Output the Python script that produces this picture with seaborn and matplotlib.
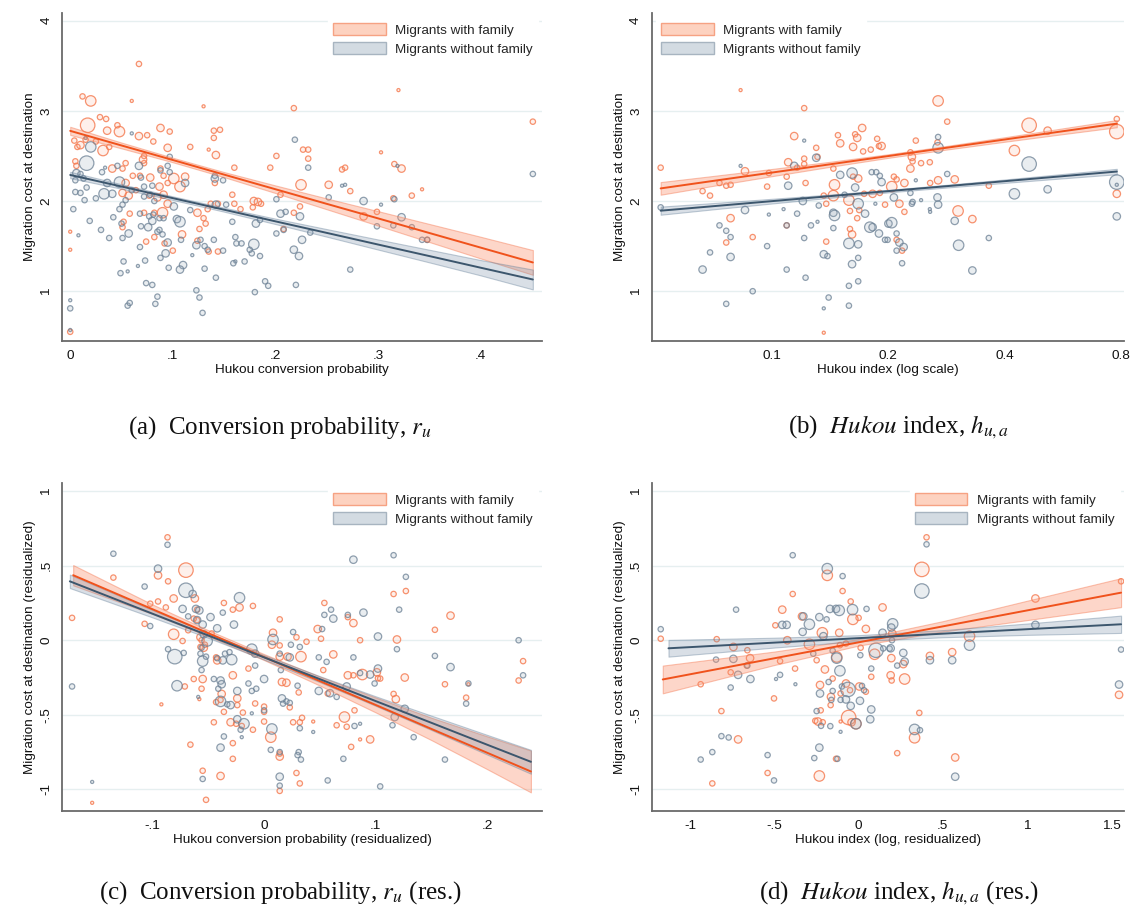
import matplotlib

matplotlib.use("Agg")
import matplotlib.pyplot as plt
import pandas as pd
import seaborn as sns
from matplotlib.patches import Patch
from matplotlib.ticker import NullLocator

FAM_LABEL = "Migrants with family"
NOFAM_LABEL = "Migrants without family"

# scatter points: (x, y, weight class 0..4)
A_FAM = [
    (0.067, 3.52, 1), (0.012, 3.16, 1), (0.020, 3.11, 3), (0.060, 3.11, 0), (0.130, 3.05, 0), (0.218, 3.03, 1),
    (0.029, 2.93, 1), (0.035, 2.91, 1), (0.017, 2.84, 4), (0.046, 2.84, 1), (0.048, 2.77, 3), (0.036, 2.78, 2),
    (0.088, 2.81, 2), (0.097, 2.77, 1), (0.067, 2.72, 2), (0.075, 2.73, 1), (0.140, 2.78, 1), (0.146, 2.79, 1),
    (0.140, 2.70, 1), (0.004, 2.67, 1), (0.007, 2.60, 1), (0.010, 2.62, 2), (0.015, 2.68, 1), (0.025, 2.66, 1),
    (0.038, 2.60, 1), (0.032, 2.56, 3), (0.072, 2.50, 1), (0.072, 2.42, 1), (0.071, 2.46, 2), (0.081, 2.66, 1),
    (0.095, 2.59, 2), (0.117, 2.60, 1), (0.135, 2.57, 0), (0.142, 2.51, 2), (0.005, 2.44, 1), (0.006, 2.39, 1),
    (0.041, 2.36, 2), (0.054, 2.42, 1), (0.051, 2.36, 1), (0.160, 2.37, 1), (0.195, 2.37, 1), (0.201, 2.50, 1),
    (0.227, 2.57, 1), (0.232, 2.57, 1), (0.232, 2.47, 1), (0.061, 2.28, 1), (0.068, 2.28, 1), (0.078, 2.26, 2),
    (0.088, 2.36, 1), (0.091, 2.28, 1), (0.101, 2.25, 3), (0.107, 2.16, 3), (0.112, 2.27, 2), (0.087, 2.16, 2),
    (0.095, 2.20, 1), (0.054, 2.20, 2), (0.051, 2.09, 2), (0.057, 2.06, 2), (0.064, 2.12, 1), (0.077, 2.06, 1),
    (0.085, 2.04, 2), (0.091, 2.07, 2), (0.095, 1.97, 2), (0.090, 1.87, 3), (0.082, 1.87, 1), (0.072, 1.87, 1),
    (0.058, 1.86, 1), (0.052, 1.77, 1), (0.051, 1.71, 1), (0.225, 2.18, 3), (0.205, 2.07, 1), (0.179, 2.00, 2),
    (0.183, 1.99, 2), (0.186, 1.97, 1), (0.160, 1.97, 1), (0.158, 2.07, 1), (0.144, 1.97, 1), (0.137, 1.97, 1),
    (0.134, 1.91, 1), (0.124, 1.87, 2), (0.130, 1.81, 1), (0.132, 1.75, 1), (0.166, 1.91, 1), (0.178, 1.93, 1),
    (0.218, 1.87, 1), (0.224, 1.94, 1), (0.109, 1.63, 2), (0.074, 1.55, 1), (0.082, 1.60, 1), (0.092, 1.53, 1),
    (0.124, 1.56, 1), (0.144, 1.44, 1), (0.135, 1.44, 1), (0.000, 1.66, 0), (0.000, 1.46, 0), (0.000, 0.55, 1),
    (0.208, 1.69, 1), (0.126, 1.69, 1), (0.100, 1.45, 1), (0.141, 2.20, 1),
    (0.320, 3.23, 0), (0.451, 2.88, 1), (0.303, 2.54, 0), (0.316, 2.41, 1), (0.323, 2.36, 2), (0.265, 2.35, 1),
    (0.268, 2.37, 1), (0.252, 2.18, 2), (0.273, 2.11, 1), (0.343, 2.13, 0), (0.333, 2.06, 1), (0.315, 2.03, 1),
    (0.299, 1.88, 1), (0.286, 1.83, 2), (0.348, 1.57, 1),
]
A_NOFAM = [
    (0.000, 0.90, 0), (0.000, 0.81, 1), (0.000, 0.57, 0), (0.060, 2.75, 0), (0.020, 2.60, 3), (0.016, 2.42, 4),
    (0.015, 2.70, 0), (0.006, 2.31, 2), (0.010, 2.30, 1), (0.013, 2.25, 1), (0.005, 2.23, 1), (0.003, 1.91, 1),
    (0.005, 2.10, 1), (0.010, 2.09, 1), (0.014, 2.01, 1), (0.016, 2.15, 1), (0.025, 2.03, 1), (0.033, 2.08, 3),
    (0.041, 2.08, 2), (0.036, 2.20, 2), (0.048, 2.21, 3), (0.031, 2.32, 1), (0.046, 2.39, 1), (0.034, 2.37, 0),
    (0.019, 1.78, 1), (0.008, 1.62, 0), (0.030, 1.68, 1), (0.038, 1.59, 1), (0.042, 1.82, 1), (0.048, 1.91, 1),
    (0.051, 1.96, 1), (0.054, 2.01, 1), (0.050, 1.75, 1), (0.051, 1.59, 1), (0.057, 1.64, 2), (0.052, 1.33, 1),
    (0.049, 1.20, 1), (0.056, 1.22, 0), (0.056, 0.84, 1), (0.058, 0.87, 1), (0.060, 2.12, 1), (0.067, 2.39, 2),
    (0.069, 2.26, 1), (0.072, 2.16, 1), (0.072, 2.05, 1), (0.068, 1.86, 1), (0.069, 1.72, 1), (0.073, 1.34, 1),
    (0.068, 1.49, 1), (0.066, 1.28, 0), (0.074, 1.09, 1), (0.080, 1.07, 1), (0.078, 2.07, 1), (0.082, 2.00, 1),
    (0.077, 1.83, 1), (0.080, 1.78, 2), (0.076, 1.71, 2), (0.085, 1.66, 1), (0.081, 1.85, 1), (0.080, 2.17, 1),
    (0.087, 1.81, 1), (0.087, 1.68, 1), (0.090, 1.63, 1), (0.091, 1.81, 1), (0.088, 2.34, 1), (0.095, 1.54, 2),
    (0.093, 1.42, 2), (0.088, 1.37, 1), (0.096, 1.26, 1), (0.085, 0.94, 1), (0.083, 0.86, 1), (0.097, 2.49, 1),
    (0.095, 2.39, 1), (0.097, 2.32, 1), (0.101, 1.94, 2), (0.104, 1.80, 2), (0.107, 1.77, 3), (0.110, 1.29, 2),
    (0.107, 1.24, 2), (0.108, 1.57, 1), (0.112, 2.20, 2), (0.117, 1.90, 1), (0.119, 1.40, 0), (0.123, 1.51, 2),
    (0.127, 1.57, 1), (0.131, 1.50, 1), (0.134, 1.46, 1), (0.131, 1.25, 1), (0.141, 2.28, 1), (0.141, 2.25, 2),
    (0.142, 1.96, 2), (0.149, 2.23, 1), (0.142, 1.15, 1), (0.123, 1.01, 1), (0.126, 0.93, 1), (0.129, 0.76, 1),
    (0.140, 1.57, 1), (0.149, 1.45, 1), (0.152, 1.96, 1), (0.158, 1.77, 1), (0.161, 1.60, 1), (0.162, 1.53, 1),
    (0.167, 1.53, 1), (0.159, 1.31, 1), (0.161, 1.33, 0), (0.170, 1.33, 1), (0.177, 1.42, 1), (0.179, 1.52, 3),
    (0.175, 1.46, 1), (0.180, 0.99, 1), (0.181, 1.75, 2), (0.185, 1.79, 1), (0.185, 1.39, 1), (0.190, 1.11, 1),
    (0.193, 1.06, 1), (0.201, 2.02, 1), (0.205, 1.86, 2), (0.210, 1.88, 1), (0.201, 1.64, 1), (0.208, 1.68, 1),
    (0.219, 2.68, 1), (0.220, 1.07, 1), (0.218, 1.46, 2), (0.223, 1.39, 2), (0.226, 1.57, 2), (0.232, 2.37, 1),
    (0.234, 1.65, 1), (0.224, 1.83, 2),
    (0.451, 2.30, 1), (0.319, 2.39, 0), (0.265, 2.17, 0), (0.268, 2.18, 0), (0.252, 2.04, 1), (0.286, 2.00, 2),
    (0.303, 1.96, 0), (0.316, 2.02, 1), (0.323, 1.82, 2), (0.299, 1.72, 1), (0.315, 1.73, 1), (0.333, 1.71, 1),
    (0.343, 1.57, 1), (0.348, 1.57, 1), (0.273, 1.24, 1),
]

B_FAM = [
    (0.0828, 3.23, 0), (0.121, 3.03, 1), (0.0514, 2.37, 1), (0.114, 2.72, 2), (0.130, 2.59, 1), (0.131, 2.49, 1),
    (0.110, 2.43, 2), (0.121, 2.47, 1), (0.121, 2.41, 1), (0.116, 2.37, 1), (0.085, 2.33, 2), (0.098, 2.31, 1),
    (0.109, 2.27, 1), (0.073, 2.20, 1), (0.076, 2.17, 1), (0.078, 2.18, 1), (0.066, 2.11, 1), (0.069, 2.06, 1),
    (0.097, 2.16, 1), (0.122, 2.20, 1), (0.148, 2.73, 1), (0.150, 2.64, 2), (0.162, 2.60, 2), (0.164, 2.74, 1),
    (0.166, 2.70, 2), (0.171, 2.81, 2), (0.172, 2.55, 1), (0.180, 2.57, 1), (0.187, 2.69, 1), (0.189, 2.61, 1),
    (0.192, 2.61, 2), (0.144, 2.36, 1), (0.145, 2.18, 3), (0.144, 2.06, 3), (0.158, 2.01, 3), (0.138, 1.97, 1),
    (0.136, 2.06, 1), (0.162, 2.27, 1), (0.167, 2.25, 2), (0.182, 2.08, 2), (0.190, 2.09, 1), (0.173, 2.08, 1),
    (0.168, 1.90, 1), (0.166, 1.81, 1), (0.159, 1.89, 1), (0.196, 1.96, 1), (0.078, 1.81, 2), (0.089, 1.60, 1),
    (0.076, 1.54, 1), (0.109, 1.73, 1), (0.138, 1.55, 1), (0.161, 1.63, 2), (0.159, 1.69, 1), (0.136, 0.54, 0),
    (0.269, 3.11, 3), (0.284, 2.88, 1), (0.2355, 2.67, 1), (0.268, 2.65, 1), (0.228, 2.54, 1), (0.230, 2.49, 2),
    (0.231, 2.44, 1), (0.243, 2.42, 1), (0.256, 2.43, 1), (0.228, 2.36, 2), (0.463, 2.84, 4), (0.517, 2.78, 2),
    (0.781, 2.77, 4), (0.781, 2.91, 1), (0.424, 2.56, 3), (0.2066, 2.27, 1), (0.210, 2.24, 1), (0.204, 2.16, 3),
    (0.220, 2.20, 2), (0.2135, 1.97, 2), (0.220, 1.88, 1), (0.2565, 2.20, 1), (0.269, 2.23, 2), (0.297, 2.24, 2),
    (0.364, 2.17, 1), (0.303, 1.89, 3), (0.330, 1.80, 2), (0.781, 2.08, 2), (0.210, 1.57, 1), (0.217, 1.45, 1),
]
B_NOFAM = [
    (0.0514, 1.93, 1), (0.0828, 2.39, 0), (0.121, 2.67, 0), (0.130, 2.48, 2), (0.114, 2.39, 2), (0.110, 2.17, 2),
    (0.120, 2.00, 2), (0.116, 1.86, 1), (0.107, 1.91, 0), (0.098, 1.85, 0), (0.085, 1.90, 2), (0.073, 1.73, 1),
    (0.076, 1.67, 1), (0.078, 1.60, 1), (0.069, 1.43, 1), (0.078, 1.38, 2), (0.066, 1.24, 2), (0.076, 0.86, 1),
    (0.089, 1.00, 1), (0.097, 1.50, 1), (0.109, 1.24, 1), (0.121, 1.59, 1), (0.126, 1.73, 1), (0.122, 1.15, 1),
    (0.131, 1.77, 0), (0.132, 1.95, 1), (0.136, 1.41, 2), (0.139, 1.39, 1), (0.140, 0.93, 1), (0.136, 0.81, 0),
    (0.144, 1.87, 2), (0.145, 1.84, 3), (0.144, 1.70, 1), (0.150, 2.29, 2), (0.154, 2.07, 1), (0.158, 1.53, 3),
    (0.158, 1.06, 1), (0.158, 0.84, 1), (0.161, 2.31, 3), (0.164, 2.15, 2), (0.167, 1.97, 3), (0.167, 1.52, 2),
    (0.167, 1.37, 1), (0.167, 1.11, 1), (0.161, 1.30, 2), (0.174, 1.86, 2), (0.181, 2.32, 1), (0.179, 1.71, 3),
    (0.182, 1.71, 2), (0.189, 1.64, 2), (0.186, 2.32, 1), (0.190, 2.28, 1), (0.192, 2.21, 2), (0.185, 1.97, 0),
    (0.196, 1.57, 1), (0.200, 1.75, 2), (0.109, 1.73, 1),
    (0.269, 2.71, 1), (0.269, 2.59, 3), (0.2355, 2.23, 0), (0.284, 2.30, 1), (0.2066, 2.04, 2), (0.228, 2.09, 1),
    (0.231, 1.99, 1), (0.230, 1.97, 1), (0.243, 2.01, 0), (0.268, 2.04, 2), (0.269, 1.96, 2), (0.256, 1.91, 0),
    (0.2565, 1.88, 0), (0.463, 2.41, 4), (0.517, 2.13, 2), (0.424, 2.08, 3), (0.781, 2.21, 4), (0.781, 2.18, 0),
    (0.781, 1.83, 2), (0.204, 1.76, 3), (0.210, 1.64, 1), (0.199, 1.57, 1), (0.2135, 1.54, 2), (0.219, 1.49, 2),
    (0.210, 1.45, 1), (0.217, 1.31, 1), (0.297, 1.78, 2), (0.304, 1.51, 3), (0.330, 1.23, 2), (0.364, 1.59, 1),
]

C_FAM = [
    (-0.0865, 0.69, 1), (-0.135, 0.42, 1), (-0.172, 0.15, 1), (-0.154, -1.09, 0), (-0.070, 0.47, 4),
    (-0.095, 0.435, 2), (-0.086, 0.395, 1), (-0.095, 0.26, 1), (-0.102, 0.245, 1), (-0.107, 0.11, 1),
    (-0.081, 0.28, 2), (-0.088, 0.22, 1), (-0.081, 0.04, 3), (-0.073, -0.005, 1), (-0.062, 0.28, 2),
    (-0.060, 0.205, 1), (-0.063, 0.145, 1), (-0.060, 0.135, 1), (-0.068, 0.067, 1), (-0.057, 0.02, 2),
    (-0.056, 0.0, 1), (-0.054, -0.05, 2), (-0.053, -0.03, 1), (-0.057, -0.045, 1), (-0.047, 0.045, 1),
    (-0.036, 0.25, 1), (-0.028, 0.205, 1), (-0.022, 0.22, 2), (-0.010, 0.23, 1), (-0.043, -0.115, 1),
    (-0.042, -0.135, 2), (-0.063, -0.26, 1), (-0.055, -0.26, 2), (-0.071, -0.31, 1), (-0.056, -0.325, 1),
    (-0.058, -0.395, 0), (-0.092, -0.43, 0), (-0.043, -0.415, 1), (-0.038, -0.36, 2), (-0.039, -0.40, 1),
    (-0.028, -0.235, 2), (-0.024, -0.39, 2), (-0.036, -0.48, 1), (-0.024, -0.435, 1), (-0.019, -0.485, 1),
    (-0.030, -0.55, 2), (-0.025, -0.56, 1), (-0.020, -0.575, 1), (-0.010, -0.60, 1), (-0.028, -0.69, 1),
    (-0.028, -0.795, 1), (-0.045, -0.55, 1), (-0.066, -0.70, 1), (-0.055, -0.875, 1), (-0.039, -0.91, 2),
    (-0.052, -1.07, 1), (-0.014, -0.19, 1), (-0.008, -0.424, 1), (0.0, -0.445, 1), (0.0, -0.48, 1),
    (0.0, -0.545, 1), (0.006, -0.65, 3), (0.014, -0.78, 2), (0.014, -0.76, 1), (0.014, -1.01, 1),
    (0.029, -0.89, 1), (0.032, -0.96, 1), (0.014, 0.14, 1), (0.008, 0.05, 2), (0.007, -0.03, 2),
    (0.014, -0.035, 1), (0.014, -0.11, 2), (0.021, -0.11, 2), (0.033, -0.11, 3), (0.029, 0.02, 1),
    (0.038, -0.01, 1), (0.016, -0.28, 2), (0.020, -0.285, 2), (0.031, -0.35, 1), (0.023, -0.45, 1),
    (0.026, -0.55, 1), (0.032, -0.55, 1), (0.034, -0.52, 1),
    (0.054, 0.25, 1), (0.116, 0.31, 1), (0.127, 0.33, 1), (0.075, 0.155, 1), (0.080, 0.115, 2),
    (0.048, 0.075, 2), (0.051, 0.01, 1), (0.062, -0.095, 2), (0.053, -0.20, 1), (0.086, 0.0, 1),
    (0.075, -0.235, 2), (0.080, -0.235, 1), (0.088, -0.23, 3), (0.101, -0.215, 2), (0.102, -0.255, 1),
    (0.104, -0.257, 1), (0.126, -0.25, 2), (0.119, 0.005, 2), (0.153, 0.07, 1), (0.167, 0.165, 2),
    (0.162, -0.295, 1), (0.181, -0.385, 1), (0.183, -0.295, 0), (0.232, -0.14, 1), (0.228, -0.27, 1),
    (0.116, -0.36, 1), (0.118, -0.395, 2), (0.072, -0.515, 3), (0.065, -0.57, 1), (0.074, -0.58, 1),
    (0.081, -0.47, 1), (0.044, -0.545, 0), (0.086, -0.665, 0), (0.095, -0.665, 2), (0.078, -0.715, 1),
    (0.057, -0.357, 1),
]
C_NOFAM = [
    (-0.135, 0.58, 1), (-0.0865, 0.64, 1), (-0.172, -0.31, 1), (-0.154, -0.95, 0), (-0.107, 0.36, 1),
    (-0.095, 0.48, 2), (-0.102, 0.095, 1), (-0.070, 0.335, 4), (-0.073, 0.21, 2), (-0.064, 0.31, 2),
    (-0.061, 0.21, 2), (-0.058, 0.20, 2), (-0.068, 0.16, 1), (-0.060, 0.135, 2), (-0.055, 0.105, 2),
    (-0.048, 0.155, 2), (-0.042, 0.08, 2), (-0.037, 0.185, 1), (-0.027, 0.105, 2), (-0.022, 0.285, 3),
    (-0.054, 0.04, 2), (-0.051, -0.005, 3), (-0.056, -0.05, 1), (-0.057, -0.09, 1), (-0.086, -0.06, 1),
    (-0.080, -0.11, 4), (-0.072, -0.085, 1), (-0.055, -0.14, 3), (-0.052, -0.11, 1), (-0.042, -0.12, 1),
    (-0.037, -0.135, 2), (-0.035, -0.09, 1), (-0.031, -0.08, 1), (-0.029, -0.13, 3), (-0.011, -0.06, 3),
    (-0.008, -0.09, 2), (-0.008, -0.17, 1), (0.0, -0.26, 2), (-0.056, -0.20, 1), (-0.045, -0.26, 1),
    (-0.039, -0.27, 2), (-0.038, -0.295, 2), (-0.041, -0.325, 1), (-0.078, -0.305, 3), (-0.059, -0.38, 0),
    (-0.039, -0.41, 3), (-0.033, -0.43, 1), (-0.030, -0.435, 2), (-0.024, -0.34, 2), (-0.014, -0.29, 1),
    (-0.011, -0.34, 1), (-0.007, -0.325, 1), (-0.011, -0.49, 0), (-0.024, -0.53, 2), (-0.018, -0.56, 3),
    (-0.021, -0.60, 1), (-0.020, -0.65, 0), (-0.036, -0.645, 1), (-0.039, -0.72, 2), (-0.055, -0.93, 1),
    (0.0, -0.47, 1), (0.007, -0.595, 3), (0.006, -0.735, 1), (0.014, -0.75, 1), (0.014, -0.915, 2),
    (0.014, -0.975, 1), (0.015, -0.20, 1), (0.014, -0.09, 1), (0.008, 0.005, 3), (0.024, -0.03, 1),
    (0.026, 0.055, 1), (0.032, -0.045, 1), (0.023, -0.115, 2), (0.016, -0.39, 2), (0.020, -0.41, 1),
    (0.023, -0.42, 1), (0.017, -0.425, 1), (0.030, -0.305, 1), (0.032, -0.59, 1), (0.031, -0.75, 1),
    (0.030, -0.77, 1), (0.033, -0.80, 1),
    (0.080, 0.54, 2), (0.116, 0.57, 1), (0.127, 0.425, 1), (0.089, 0.185, 2), (0.075, 0.17, 1),
    (0.121, 0.205, 1), (0.060, 0.205, 1), (0.054, 0.17, 1), (0.062, 0.145, 2), (0.052, 0.075, 1),
    (0.102, 0.025, 2), (0.119, -0.06, 1), (0.153, -0.105, 1), (0.167, -0.18, 2), (0.228, 0.0, 1),
    (0.232, -0.235, 1), (0.181, -0.425, 1), (0.183, -0.29, 1), (0.049, -0.115, 1), (0.056, -0.145, 1),
    (0.080, -0.115, 1), (0.086, -0.22, 1), (0.095, -0.23, 2), (0.099, -0.29, 1), (0.102, -0.19, 2),
    (0.074, -0.31, 2), (0.065, -0.38, 1), (0.059, -0.355, 2), (0.049, -0.34, 2), (0.126, -0.46, 2),
    (0.117, -0.515, 2), (0.115, -0.57, 1), (0.081, -0.575, 1), (0.086, -0.56, 0), (0.044, -0.615, 0),
    (0.134, -0.65, 1), (0.071, -0.795, 1), (0.057, -0.94, 1), (0.104, -0.98, 1), (0.162, -0.80, 1),
]

D_FAM = [
    (-1.174, 0.01, 1), (-0.391, 0.31, 1), (-0.453, 0.205, 2), (-0.494, 0.10, 1), (-0.842, 0.007, 1),
    (-0.743, -0.045, 2), (-0.660, -0.067, 1), (-0.644, -0.12, 2), (-0.664, -0.17, 1), (-0.759, -0.215, 1),
    (-0.937, -0.295, 1), (-0.814, -0.475, 1), (-0.715, -0.665, 2), (-0.868, -0.96, 1), (-0.540, -0.89, 1),
    (-0.502, -0.39, 1), (-0.466, -0.14, 1), (-0.377, -0.19, 1), (-0.423, 0.0, 2), (-0.336, 0.16, 2),
    (-0.186, 0.435, 3), (-0.095, 0.33, 1), (-0.047, 0.26, 1), (0.142, 0.22, 2), (0.0, 0.15, 1),
    (-0.034, 0.14, 3), (0.043, 0.076, 2), (-0.215, 0.05, 3), (-0.292, -0.027, 3), (-0.249, -0.134, 1),
    (-0.200, -0.196, 2), (-0.115, 0.05, 2), (-0.111, -0.033, 1), (-0.075, -0.022, 1), (-0.130, -0.112, 3),
    (-0.229, -0.30, 2), (-0.154, -0.257, 1), (-0.075, -0.29, 2), (-0.164, -0.38, 2), (-0.166, -0.435, 1),
    (-0.107, -0.357, 1), (-0.051, -0.335, 1), (0.004, -0.31, 2), (0.043, -0.345, 1), (-0.059, -0.518, 4),
    (-0.042, -0.55, 2), (-0.016, -0.56, 3), (-0.107, -0.545, 0), (-0.257, -0.54, 1), (-0.241, -0.545, 2),
    (-0.213, -0.55, 1), (-0.225, -0.47, 1), (-0.134, -0.795, 1), (-0.233, -0.91, 3), (0.012, -0.05, 1),
    (0.095, -0.094, 3), (0.075, -0.245, 1),
    (0.403, 0.69, 1), (0.375, 0.475, 4), (0.200, 0.045, 2), (0.194, -0.12, 2), (0.190, -0.235, 2),
    (0.196, -0.27, 1), (0.265, -0.16, 2), (0.273, -0.26, 3), (0.423, -0.105, 2), (0.555, -0.08, 2),
    (0.658, 0.027, 3), (1.049, 0.28, 2), (1.557, 0.395, 1), (1.545, -0.366, 2), (0.360, -0.487, 1),
    (0.332, -0.654, 3), (0.229, -0.757, 1), (0.573, -0.786, 2),
]
D_NOFAM = [
    (-1.174, 0.074, 1), (-0.391, 0.57, 1), (-0.095, 0.43, 1), (-0.186, 0.48, 3), (-0.727, 0.205, 1),
    (-0.170, 0.21, 2), (-0.134, 0.21, 2), (-0.115, 0.20, 3), (-0.036, 0.205, 3), (0.047, 0.21, 1),
    (-0.233, 0.155, 2), (-0.190, 0.14, 1), (-0.328, 0.16, 2), (-0.453, 0.103, 2), (-0.427, 0.103, 2),
    (-0.292, 0.107, 3), (-0.332, 0.056, 2), (-0.209, 0.027, 2), (-0.269, -0.09, 1), (-0.154, -0.07, 1),
    (0.010, -0.10, 1), (0.142, 0.05, 2), (0.103, -0.067, 4), (0.146, -0.055, 1), (0.184, -0.056, 1),
    (-0.846, -0.13, 1), (-0.743, -0.125, 2), (-0.660, -0.17, 1), (-0.715, -0.232, 2), (-0.642, -0.26, 2),
    (-0.759, -0.317, 1), (-0.466, -0.232, 1), (-0.490, -0.26, 0), (-0.375, -0.295, 0), (-0.111, -0.205, 3),
    (-0.099, -0.31, 1), (-0.063, -0.33, 4), (0.008, -0.406, 2), (0.020, -0.306, 1), (0.032, -0.335, 1),
    (0.075, -0.19, 1), (0.075, -0.464, 2), (0.069, -0.53, 2), (-0.229, -0.357, 2), (-0.178, -0.28, 1),
    (-0.154, -0.34, 1), (-0.162, -0.40, 1), (-0.107, -0.40, 1), (-0.075, -0.397, 2), (-0.047, -0.44, 2),
    (-0.249, -0.475, 1), (-0.223, -0.574, 1), (-0.168, -0.576, 1), (-0.107, -0.614, 0), (-0.814, -0.643, 1),
    (-0.771, -0.652, 1), (-0.868, -0.75, 1), (-0.937, -0.80, 1), (-0.540, -0.77, 1), (-0.502, -0.94, 1),
    (-0.233, -0.72, 2), (-0.263, -0.79, 1), (-0.126, -0.795, 1), (-0.016, -0.56, 3), (-0.130, -0.12, 3),
    (0.403, 0.643, 1), (0.375, 0.33, 4), (0.202, 0.11, 3), (0.194, 0.085, 2), (0.198, 0.0, 1),
    (0.190, -0.054, 2), (0.265, -0.085, 2), (0.273, -0.143, 2), (0.229, -0.17, 1), (0.423, -0.134, 2),
    (0.555, -0.134, 2), (0.658, -0.033, 3), (1.049, 0.103, 2), (1.557, -0.0625, 1), (1.545, -0.297, 2),
    (0.332, -0.598, 3), (0.364, -0.603, 1), (0.573, -0.915, 2),
]

# fitted lines with confidence band half-widths
A_FAM_FIT_X = [0.0, 0.05, 0.1, 0.15, 0.2, 0.25, 0.3, 0.35, 0.4, 0.451]
A_FAM_FIT_Y = [2.778, 2.616, 2.455, 2.293, 2.131, 1.969, 1.808, 1.646, 1.484, 1.319]
A_FAM_FIT_H = [0.045, 0.032, 0.025, 0.028, 0.042, 0.06, 0.08, 0.10, 0.12, 0.137]
A_NOFAM_FIT_X = [0.0, 0.05, 0.1, 0.15, 0.2, 0.25, 0.3, 0.35, 0.4, 0.451]
A_NOFAM_FIT_Y = [2.289, 2.161, 2.032, 1.904, 1.775, 1.647, 1.518, 1.390, 1.261, 1.130]
A_NOFAM_FIT_H = [0.035, 0.025, 0.02, 0.022, 0.03, 0.042, 0.056, 0.07, 0.085, 0.11]

B_FAM_FIT_X = [0.0514, 0.07, 0.1, 0.14, 0.2, 0.28, 0.4, 0.56, 0.781]
B_FAM_FIT_Y = [2.140, 2.222, 2.316, 2.405, 2.499, 2.588, 2.682, 2.771, 2.858]
B_FAM_FIT_H = [0.07, 0.055, 0.04, 0.028, 0.02, 0.02, 0.025, 0.032, 0.04]
B_NOFAM_FIT_X = [0.0514, 0.07, 0.1, 0.14, 0.2, 0.28, 0.4, 0.56, 0.781]
B_NOFAM_FIT_Y = [1.893, 1.942, 1.999, 2.053, 2.110, 2.163, 2.220, 2.274, 2.327]
B_NOFAM_FIT_H = [0.045, 0.035, 0.026, 0.018, 0.014, 0.015, 0.019, 0.024, 0.03]

C_FAM_FIT_X = [-0.171, -0.1, -0.05, 0.0, 0.05, 0.1, 0.15, 0.2, 0.239]
C_FAM_FIT_Y = [0.436, 0.208, 0.047, -0.113, -0.274, -0.434, -0.595, -0.755, -0.880]
C_FAM_FIT_H = [0.068, 0.032, 0.02, 0.02, 0.03, 0.05, 0.075, 0.11, 0.14]
C_NOFAM_FIT_X = [-0.174, -0.1, -0.05, 0.0, 0.05, 0.1, 0.15, 0.2, 0.239]
C_NOFAM_FIT_Y = [0.395, 0.178, 0.032, -0.115, -0.261, -0.408, -0.554, -0.701, -0.815]
C_NOFAM_FIT_H = [0.045, 0.025, 0.016, 0.015, 0.02, 0.032, 0.048, 0.066, 0.08]

D_FAM_FIT_X = [-1.162, -0.5, 0.0, 0.5, 1.0, 1.557]
D_FAM_FIT_Y = [-0.263, -0.121, -0.014, 0.093, 0.200, 0.319]
D_FAM_FIT_H = [0.093, 0.045, 0.022, 0.035, 0.065, 0.097]
D_NOFAM_FIT_X = [-1.128, -0.5, 0.0, 0.5, 1.0, 1.557]
D_NOFAM_FIT_Y = [-0.054, -0.016, 0.014, 0.044, 0.074, 0.107]
D_NOFAM_FIT_H = [0.056, 0.033, 0.02, 0.024, 0.038, 0.058]

CAPTIONS = [
    "(a)  Conversion probability, $r_u$",
    r"(b)  $\mathit{Hukou}$ index, $h_{u,a}$",
    "(c)  Conversion probability, $r_u$ (res.)",
    r"(d)  $\mathit{Hukou}$ index, $h_{u,a}$ (res.)",
]

FAM_LINE = "#f0521c"
NOFAM_LINE = "#3c566d"
FAM_EDGE = (0.96, 0.47, 0.30, 0.8)
FAM_FACE = (0.99, 0.60, 0.47, 0.14)
NOFAM_EDGE = (0.42, 0.50, 0.58, 0.75)
NOFAM_FACE = (0.58, 0.65, 0.72, 0.2)
FAM_BAND = (0.99, 0.55, 0.40, 0.35)
FAM_BAND_EDGE = (0.96, 0.48, 0.33, 0.45)
NOFAM_BAND = (0.45, 0.55, 0.65, 0.27)
NOFAM_BAND_EDGE = (0.40, 0.50, 0.60, 0.4)
AXIS_GREY = "#6a6a6a"
TEXT_SIZE = 9.7
SIZES = {0: 5, 1: 15, 2: 29, 3: 57, 4: 109}


def to_frame(points):
    return pd.DataFrame(points, columns=["x", "y", "w"])


def draw_fit(ax, xs, ys, hs, band_color, band_edge):
    fit = pd.DataFrame({"x": xs, "y": ys, "h": hs})
    ax.fill_between(
        fit["x"], fit["y"] - fit["h"], fit["y"] + fit["h"],
        facecolor=band_color, edgecolor=band_edge, linewidth=0.8, zorder=3,
    )
    return fit


def draw_panel(ax, fam, nofam, fam_fit, nofam_fit, xlabel, ylabel, xlim, ylim,
               xticks, xticklabels, yticks, yticklabels, legend_loc, logx=False):
    if logx:
        ax.set_xscale("log")

    sns.scatterplot(
        data=to_frame(fam), x="x", y="y", size="w", sizes=SIZES, legend=False,
        color=FAM_FACE, edgecolor=FAM_EDGE, linewidth=0.9, ax=ax, zorder=2,
    )
    sns.scatterplot(
        data=to_frame(nofam), x="x", y="y", size="w", sizes=SIZES, legend=False,
        color=NOFAM_FACE, edgecolor=NOFAM_EDGE, linewidth=0.9, ax=ax, zorder=2,
    )

    fam_line = draw_fit(ax, *fam_fit, FAM_BAND, FAM_BAND_EDGE)
    nofam_line = draw_fit(ax, *nofam_fit, NOFAM_BAND, NOFAM_BAND_EDGE)
    sns.lineplot(data=fam_line, x="x", y="y", color=FAM_LINE, linewidth=1.4, ax=ax, zorder=4)
    sns.lineplot(data=nofam_line, x="x", y="y", color=NOFAM_LINE, linewidth=1.4, ax=ax, zorder=4)

    ax.set_xlim(*xlim)
    ax.set_ylim(*ylim)
    if logx:
        ax.xaxis.set_minor_locator(NullLocator())
    ax.set_xticks(xticks, xticklabels)
    ax.set_yticks(yticks, yticklabels)
    for label in ax.get_yticklabels():
        label.set_rotation(90)
        label.set_va("center")

    ax.set_xlabel(xlabel, fontsize=TEXT_SIZE, labelpad=1, color="#111111")
    ax.set_ylabel(ylabel, fontsize=TEXT_SIZE, labelpad=3, color="#111111")
    ax.tick_params(axis="both", direction="out", length=4, width=1, color=AXIS_GREY,
                   labelsize=TEXT_SIZE, labelcolor="#111111", pad=3)

    for side in ("top", "right"):
        ax.spines[side].set_visible(False)
    for side in ("left", "bottom"):
        ax.spines[side].set_color(AXIS_GREY)
        ax.spines[side].set_linewidth(1.3)

    ax.yaxis.grid(True, color="#e6eff0", linewidth=1.0)
    ax.xaxis.grid(False)
    ax.set_axisbelow(True)

    handles = [
        Patch(facecolor="#fdd2c0", edgecolor="#f6a283", linewidth=1.0, label=FAM_LABEL),
        Patch(facecolor="#d3dbe2", edgecolor="#a7b4c0", linewidth=1.0, label=NOFAM_LABEL),
    ]
    leg = ax.legend(
        handles=handles, loc=legend_loc, frameon=True, facecolor="white", edgecolor="white",
        framealpha=1, fancybox=False, fontsize=TEXT_SIZE, handlelength=3.9, handleheight=1.05,
        labelspacing=0.4, borderaxespad=0.3, handletextpad=0.7, borderpad=0.4,
    )
    leg.set_zorder(6)


def main():
    sns.set_theme(style="white")
    plt.rcParams["font.family"] = ["Liberation Sans", "DejaVu Sans"]
    plt.rcParams["mathtext.fontset"] = "stix"

    fig = plt.figure(figsize=(11.4, 9.14), dpi=100)
    fig.patch.set_facecolor("white")

    ax_a = fig.add_axes([0.0544, 0.6273, 0.4211, 0.3582])
    ax_b = fig.add_axes([0.5719, 0.6273, 0.4140, 0.3582])
    ax_c = fig.add_axes([0.0544, 0.1130, 0.4211, 0.3582])
    ax_d = fig.add_axes([0.5719, 0.1130, 0.4140, 0.3582])

    cost_ticks = [1, 2, 3, 4]
    cost_labels = ["1", "2", "3", "4"]
    res_ticks = [-1, -0.5, 0, 0.5, 1]
    res_labels = ["-1", "-.5", "0", ".5", "1"]

    draw_panel(
        ax_a, A_FAM, A_NOFAM,
        (A_FAM_FIT_X, A_FAM_FIT_Y, A_FAM_FIT_H), (A_NOFAM_FIT_X, A_NOFAM_FIT_Y, A_NOFAM_FIT_H),
        "Hukou conversion probability", "Migration cost at destination",
        (-0.008, 0.46), (0.452, 4.082),
        [0, 0.1, 0.2, 0.3, 0.4], ["0", ".1", ".2", ".3", ".4"],
        cost_ticks, cost_labels, "upper right",
    )
    draw_panel(
        ax_b, B_FAM, B_NOFAM,
        (B_FAM_FIT_X, B_FAM_FIT_Y, B_FAM_FIT_H), (B_NOFAM_FIT_X, B_NOFAM_FIT_Y, B_NOFAM_FIT_H),
        "Hukou index (log scale)", "Migration cost at destination",
        (0.0488, 0.815), (0.452, 4.082),
        [0.1, 0.2, 0.4, 0.8], ["0.1", "0.2", "0.4", "0.8"],
        cost_ticks, cost_labels, "upper left", logx=True,
    )
    draw_panel(
        ax_c, C_FAM, C_NOFAM,
        (C_FAM_FIT_X, C_FAM_FIT_Y, C_FAM_FIT_H), (C_NOFAM_FIT_X, C_NOFAM_FIT_Y, C_NOFAM_FIT_H),
        "Hukou conversion probability (residualized)", "Migration cost at destination (residualized)",
        (-0.181, 0.249), (-1.143, 1.052),
        [-0.1, 0, 0.1, 0.2], ["-.1", "0", ".1", ".2"],
        res_ticks, res_labels, "upper right",
    )
    draw_panel(
        ax_d, D_FAM, D_NOFAM,
        (D_FAM_FIT_X, D_FAM_FIT_Y, D_FAM_FIT_H), (D_NOFAM_FIT_X, D_NOFAM_FIT_Y, D_NOFAM_FIT_H),
        "Hukou index (log, residualized)", "Migration cost at destination (residualized)",
        (-1.226, 1.574), (-1.143, 1.052),
        [-1, -0.5, 0, 0.5, 1, 1.5], ["-1", "-.5", "0", ".5", "1", "1.5"],
        res_ticks, res_labels, "upper right",
    )

    caption_pos = [(0.2456, 0.532), (0.7886, 0.532), (0.2456, 0.023), (0.7886, 0.023)]
    for (cx, cy), caption in zip(caption_pos, CAPTIONS):
        fig.text(cx, cy, caption, ha="center", va="center", fontsize=18,
                 family=["Liberation Serif", "DejaVu Serif"], color="#111111")

    fig.savefig("out.png", dpi=100, facecolor="white")
    plt.close(fig)


if __name__ == "__main__":
    main()
